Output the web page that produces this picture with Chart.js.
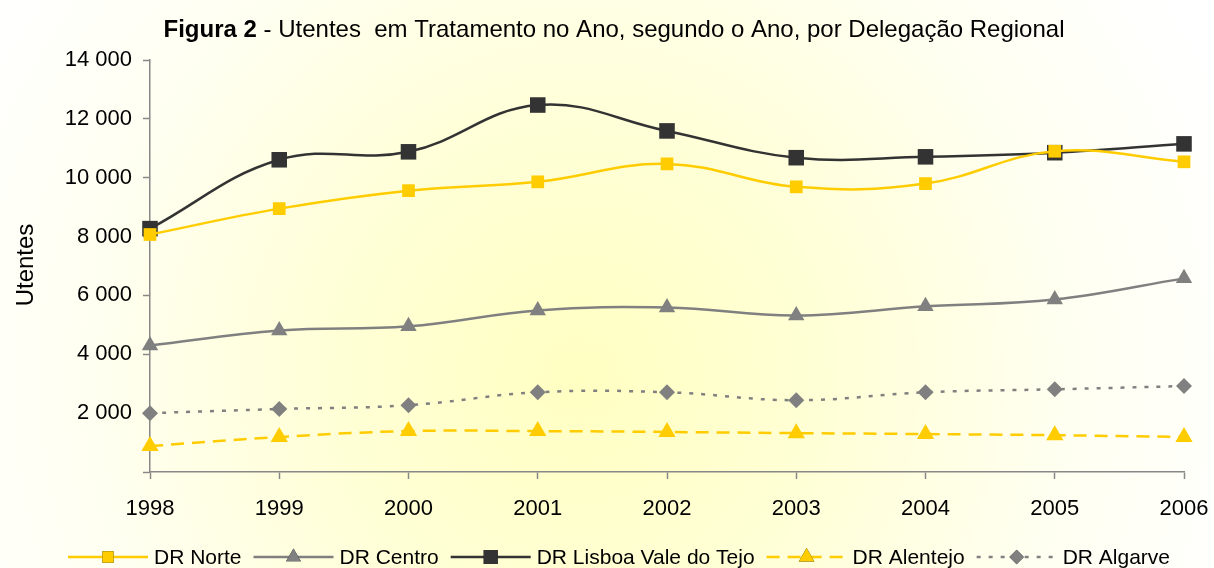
<!DOCTYPE html>
<html>
<head>
<meta charset="utf-8">
<script src="https://cdn.jsdelivr.net/npm/chart.js@4/dist/chart.umd.min.js"></script>
<style>
  html, body { margin: 0; padding: 0; background: #fff; }
  #wrap { width: 1214px; height: 568px; position: relative; }
</style>
</head>
<body>
<div id="wrap"><canvas id="chart" width="1214" height="568"></canvas></div>
<script>
const years = ["1998", "1999", "2000", "2001", "2002", "2003", "2004", "2005", "2006"];
const norte = [8070, 8950, 9560, 9860, 10470, 9690, 9800, 10900, 10540];
const centro = [4300, 4810, 4950, 5490, 5590, 5320, 5630, 5860, 6580];
const lisboa = [8270, 10610, 10880, 12470, 11590, 10680, 10710, 10850, 11150];
const alentejo = [880, 1190, 1390, 1390, 1360, 1320, 1290, 1250, 1190];
const algarve = [2000, 2140, 2270, 2710, 2710, 2440, 2710, 2810, 2920];
const yTicks = [0, 2000, 4000, 6000, 8000, 10000, 12000, 14000];

const FONT = "'Liberation Sans', Arial, sans-serif";

function fmt(v) {
  return String(v).replace(/\B(?=(\d{3})+(?!\d))/g, " ");
}

const bgPlugin = {
  id: "bg",
  beforeDraw(chart) {
    const ctx = chart.ctx;
    const g = ctx.createRadialGradient(580, 380, 0, 580, 380, 700);
    g.addColorStop(0, "#ffffc2");
    g.addColorStop(0.35, "#ffffd6");
    g.addColorStop(0.7, "#fffff1");
    g.addColorStop(1, "#ffffff");
    ctx.save();
    ctx.fillStyle = g;
    ctx.fillRect(0, 0, chart.width, chart.height);
    ctx.restore();
  },
  afterDraw(chart) {
    const ctx = chart.ctx;
    ctx.save();
    // title, "Figura 2" in bold
    ctx.fillStyle = "#000";
    ctx.textBaseline = "middle";
    const boldPart = "Figura 2";
    const rest = " - Utentes  em Tratamento no Ano, segundo o Ano, por Delegação Regional";
    ctx.font = "bold 24px " + FONT;
    const w1 = ctx.measureText(boldPart).width;
    ctx.font = "24px " + FONT;
    const w2 = ctx.measureText(rest).width;
    let tx = 614 - (w1 + w2) / 2;
    ctx.font = "bold 24px " + FONT;
    ctx.textAlign = "left";
    ctx.fillText(boldPart, tx, 30);
    ctx.font = "24px " + FONT;
    ctx.fillText(rest, tx + w1, 30);

    // y axis label
    ctx.save();
    ctx.translate(26, 265);
    ctx.rotate(-Math.PI / 2);
    ctx.textAlign = "center";
    ctx.font = "24px " + FONT;
    ctx.fillText("Utentes", 0, 0);
    ctx.restore();

    // legend: line + marker + label
    ctx.font = "21px " + FONT;
    const lineLen = 80, gap = 6, spacing = 12;
    const items = chart.data.datasets;
    let total = 0;
    items.forEach((ds, i) => {
      total += lineLen + gap + ctx.measureText(ds.label).width + (i < items.length - 1 ? spacing : 0);
    });
    let x = 619 - total / 2;
    const y = 557;
    items.forEach((ds) => {
      ctx.strokeStyle = ds.borderColor;
      ctx.lineWidth = ds.borderWidth;
      ctx.setLineDash(ds.borderDash || []);
      ctx.beginPath();
      ctx.moveTo(x, y);
      ctx.lineTo(x + lineLen, y);
      ctx.stroke();
      ctx.setLineDash([]);
      Chart.helpers.drawPoint(ctx, {
        pointStyle: ds.pointStyle,
        radius: ds.pointRadius * 0.9,
        borderWidth: 0,
        rotation: 0
      }, x + lineLen / 2, y);
      ctx.fillStyle = ds.pointBackgroundColor;
      ctx.fill();
      ctx.fillStyle = "#000";
      ctx.textAlign = "left";
      ctx.fillText(ds.label, x + lineLen + gap, y + 1);
      x += lineLen + gap + ctx.measureText(ds.label).width + spacing;
    });
    ctx.restore();
  }
};

function series(label, data, color, style, radius, dash) {
  return {
    label: label,
    data: data,
    borderColor: color,
    backgroundColor: color,
    pointBackgroundColor: color,
    pointBorderColor: color,
    pointBorderWidth: 0,
    pointStyle: style,
    pointRadius: radius,
    borderWidth: 2.5,
    borderDash: dash,
    tension: 0.4,
    fill: false
  };
}

new Chart(document.getElementById("chart"), {
  type: "line",
  data: {
    labels: years,
    datasets: [
      series("DR Norte", norte, "#ffcc00", "rect", 9, []),
      series("DR Centro", centro, "#808080", "triangle", 9.5, []),
      series("DR Lisboa Vale do Tejo", lisboa, "#333333", "rect", 11, []),
      series("DR Alentejo", alentejo, "#ffcc00", "triangle", 10, [13, 8]),
      series("DR Algarve", algarve, "#808080", "rectRot", 8, [4, 8])
    ]
  },
  options: {
    responsive: false,
    animation: false,
    layout: { padding: { top: 60, right: 30, left: 0, bottom: 0 } },
    plugins: {
      legend: { display: false },
      title: { display: false },
      tooltip: { enabled: false }
    },
    scales: {
      x: {
        offset: false,
        grid: { drawOnChartArea: false, drawTicks: true, tickLength: 7, color: "#888", tickWidth: 1.5 },
        border: { display: true, color: "#888", width: 1.5 },
        ticks: { color: "#000", font: { family: FONT, size: 22 }, padding: 17, maxRotation: 0 },
        afterFit(scale) {
          scale.height = 96;
          scale.paddingLeft = 0;
          scale.paddingRight = 0;
        }
      },
      y: {
        min: 0,
        max: 14000,
        afterBuildTicks(scale) { scale.ticks = yTicks.map(v => ({ value: v })); },
        grid: { drawOnChartArea: false, drawTicks: true, tickLength: 7, color: "#888", tickWidth: 1.5 },
        border: { display: true, color: "#888", width: 1.5 },
        ticks: {
          color: "#000",
          font: { family: FONT, size: 22 },
          padding: 11,
          callback: (v) => (v === 0 ? "" : fmt(v))
        },
        afterFit(scale) {
          scale.width = 150;
          scale.paddingTop = 0;
          scale.paddingBottom = 0;
        }
      }
    }
  },
  plugins: [bgPlugin]
});
</script>
</body>
</html>
